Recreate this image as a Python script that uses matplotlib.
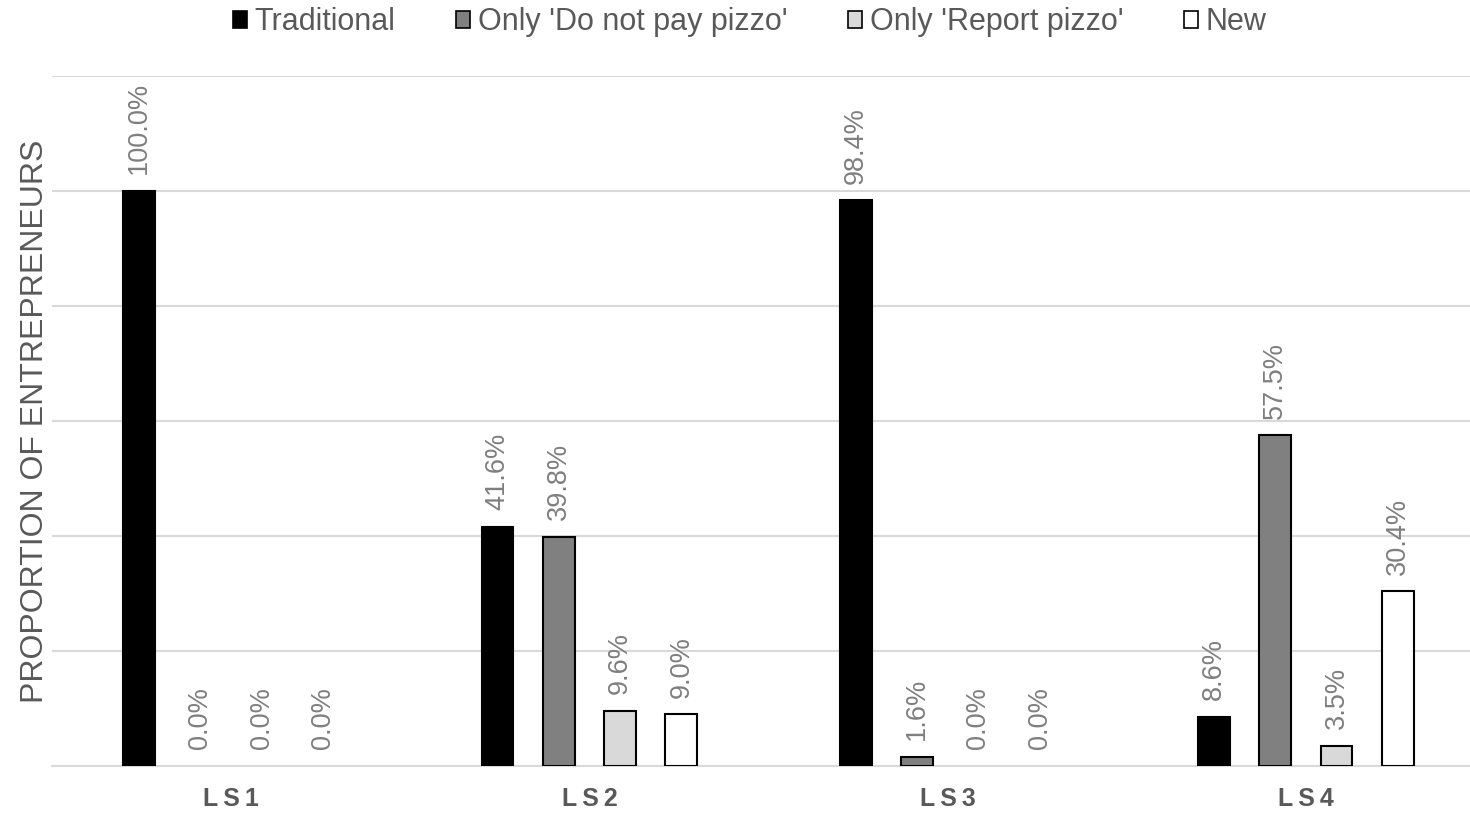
import numpy as np
import matplotlib.pyplot as plt
from matplotlib.patches import Patch

plt.rcParams['font.family'] = ['Liberation Sans', 'DejaVu Sans']

# Data
groups = ['LS1', 'LS2', 'LS3', 'LS4']
series = ['Traditional', "Only 'Do not pay pizzo'", "Only 'Report pizzo'", 'New']
traditional = [100.0, 41.6, 98.4, 8.6]
do_not_pay = [0.0, 39.8, 1.6, 57.5]
report = [0.0, 9.6, 0.0, 3.5]
new = [0.0, 9.0, 0.0, 30.4]
values = [traditional, do_not_pay, report, new]
colors = ['#000000', '#808080', '#d9d9d9', '#ffffff']

fig = plt.figure(figsize=(14.7, 8.13), dpi=100)
ax = fig.add_axes([52 / 1470, 1 - 766 / 813, 1 - 52 / 1470, (766 - 76) / 813])

x = np.arange(len(groups))
width = 0.089
step = 0.171
for i, (name, vals, c) in enumerate(zip(series, values, colors)):
    pos = x + (i - 1.5) * step
    lws = [1.5 if v > 0 else 0 for v in vals]
    ax.bar(pos, vals, width, color=c, edgecolor='black', linewidth=lws, zorder=3)
    for xp, v in zip(pos, vals):
        ax.annotate(f'{v:.1f}%', (xp, v), xytext=(0, 12), textcoords='offset points',
                    rotation=90, ha='center', va='bottom', fontsize=19.5,
                    color='#7f7f7f')

ax.set_xlim(-0.5, 3.458)
ax.set_ylim(0, 120)
ax.set_yticks(np.arange(0, 121, 20))
ax.set_yticklabels([])
ax.tick_params(axis='y', length=0)
ax.tick_params(axis='x', length=0, pad=15)
ax.set_xticks(x)
ax.set_xticklabels([g.replace('', '\u2009').strip() for g in groups],
                   fontsize=18, fontweight='bold', color='#595959')
ax.grid(axis='y', color='#d9d9d9', linewidth=1.5, zorder=0)
for s in ['top', 'right', 'left']:
    ax.spines[s].set_visible(False)
ax.spines['bottom'].set_color('#d9d9d9')
ax.spines['bottom'].set_linewidth(1.5)

ax.set_ylabel('PROPORTION OF ENTREPRENEURS', fontsize=23, color='#595959', labelpad=-2)

handles = [Patch(facecolor=c, edgecolor='black', linewidth=1.2, label=n)
           for n, c in zip(series, colors)]
fig.legend(handles=handles, loc='upper center', bbox_to_anchor=(0.51, 1.025), ncol=4,
           frameon=False, fontsize=22, handlelength=0.45, handleheight=0.45,
           handletextpad=0.25, columnspacing=2.0, labelcolor='#595959')

plt.savefig('out.png', dpi=100)
